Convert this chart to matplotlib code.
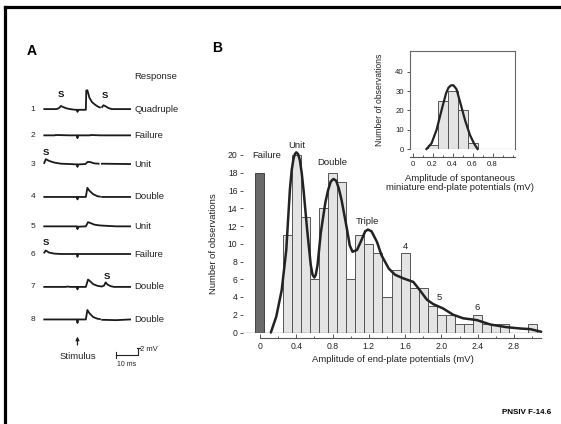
import numpy as np
import matplotlib
matplotlib.use('Agg')
import matplotlib.pyplot as plt
from matplotlib.lines import Line2D
from matplotlib.ticker import MultipleLocator

plt.rcParams['font.family'] = ['Liberation Sans', 'DejaVu Sans']

# ---------------- data ----------------
# main histogram: evoked end-plate potential amplitudes (mV)
epp_bins = [0.3, 0.4, 0.5, 0.6, 0.7, 0.8, 0.9, 1.0, 1.1, 1.2, 1.3, 1.4, 1.5, 1.6,
            1.7, 1.8, 1.9, 2.0, 2.1, 2.2, 2.3, 2.4, 2.5, 2.6, 2.7, 2.8, 2.9, 3.0]
epp_counts = [11, 20, 13, 6, 14, 18, 17, 6, 11, 10, 9, 4, 7, 9,
              5, 5, 3, 2, 2, 1, 1, 2, 1, 1, 1, 0, 0, 1]
failure_x = 0.0
failure_count = 18

# fitted curve
fit_x = [0.12, 0.18, 0.24, 0.29, 0.33, 0.35, 0.37, 0.385, 0.40, 0.42, 0.44, 0.46, 0.48,
         0.52, 0.56, 0.58, 0.60, 0.615, 0.635, 0.67, 0.72, 0.75, 0.78, 0.81, 0.84,
         0.87, 0.90, 0.96, 0.99, 1.02, 1.07, 1.11, 1.16, 1.19, 1.23, 1.29, 1.34,
         1.42, 1.49, 1.58, 1.69, 1.76, 1.84, 1.91, 2.02, 2.13, 2.24, 2.39, 2.54,
         2.72, 2.87, 2.98, 3.10]
fit_y = [0.0, 1.8, 4.8, 9.3, 16.1, 18.3, 19.6, 20.1, 20.3, 20.1, 19.4, 18.0, 16.1,
         11.6, 7.6, 6.5, 6.2, 6.5, 7.6, 11.2, 14.6, 16.0, 17.0, 17.3, 17.1,
         16.2, 14.9, 11.6, 9.8, 9.1, 9.3, 10.2, 11.4, 11.6, 11.4, 10.2, 8.7,
         7.2, 6.5, 6.1, 5.7, 4.8, 3.7, 3.2, 2.7, 2.0, 1.6, 1.4, 0.9,
         0.6, 0.45, 0.38, 0.08]

peak_labels = ['Unit', 'Double', 'Triple', '4', '5', '6']
peak_x = [0.40, 0.80, 1.19, 1.60, 1.98, 2.39]
peak_y = [21.1, 19.1, 12.5, 9.7, 3.9, 2.8]

# inset: spontaneous miniature potentials
mini_bins = [0.2, 0.3, 0.4, 0.5, 0.6]
mini_counts = [2, 25, 30, 20, 3]
mini_fit_x = [0.14, 0.19, 0.24, 0.29, 0.335, 0.36, 0.385, 0.41, 0.44, 0.48, 0.525, 0.575, 0.615, 0.65]
mini_fit_y = [0.0, 2.9, 9.8, 20.0, 28.8, 31.8, 33.0, 33.0, 31.0, 23.6, 15.0, 7.2, 2.9, 0.0]

# panel A: intracellular traces (time in ms, voltage in mV, NaN = gap)
nan = np.nan
trace_t = [
    [0.3, 5.9, 7.0, 7.9, 8.8, 10.5, 12.0, 14.5, 15.3, 15.4, 15.6, 19.2, 19.4, 19.9, 20.8, 22.0, 23.5, 25.0, 25.6,
     nan, 26.6, 27.2, 27.9, 29.5, 31.0, 39.3],
    [0.3, 5.0, 5.5, 12.0, 15.2, 15.4, 15.6, 21.0, 21.5, 26.0, 39.3],
    [0.3, 1.0, 2.5, 5.0, 8.0, 12.0, 15.2, 15.4, 15.6, 19.0, 20.0, 21.0, 23.0, 25.0, nan, 26.5, 39.3],
    [0.3, 15.2, 15.4, 15.6, 19.2, 19.9, 20.8, 22.5, 24.5, 25.6, nan, 26.6, 39.3],
    [0.3, 15.2, 15.4, 15.6, 19.2, 20.2, 21.5, 23.0, 25.0, 27.0, 30.0, 33.0, 39.3],
    [0.3, 1.0, 2.5, 5.0, 8.0, 15.2, 15.4, 15.6, 39.3],
    [0.3, 10.0, 11.0, 12.0, 15.2, 15.4, 15.6, 19.2, 20.2, 21.2, 22.5, 24.5, 26.5, 27.5, 28.2, 29.0, 30.5, 32.0, 39.3],
    [0.3, 15.2, 15.4, 15.6, 19.2, 19.9, 20.8, 22.5, 24.5, 25.6, nan, 26.6, 33.0, 39.3],
]
trace_v = [
    [0.0, 0.0, 0.3, 0.9, 0.6, 0.2, 0.0, -0.2, -0.2, -0.8, -0.2, -0.2, 5.3, 5.4, 3.3, 2.0, 1.2, 0.6, 0.5,
     nan, 0.6, 1.1, 0.9, 0.3, 0.0, 0.0],
    [0.0, 0.0, 0.1, 0.0, 0.0, -0.8, 0.0, 0.0, 0.1, 0.0, 0.0],
    [0.3, 1.4, 0.9, 0.4, 0.1, 0.0, -0.1, -0.8, -0.1, 0.0, 0.6, 0.6, 0.2, 0.1, nan, 0.1, 0.0],
    [0.0, 0.0, -0.7, 0.0, 0.0, 2.6, 1.8, 0.8, 0.2, 0.1, nan, 0.0, 0.0],
    [0.0, 0.0, -0.8, -0.1, 0.0, 1.2, 0.9, 0.5, 0.3, 0.2, 0.1, 0.0, 0.0],
    [0.4, 1.0, 0.4, 0.1, 0.0, 0.0, -0.8, 0.0, 0.0],
    [0.0, 0.0, 0.1, 0.0, 0.0, -0.7, 0.0, 0.0, 2.1, 1.6, 0.8, 0.3, 0.1, 0.4, 1.3, 0.7, 0.2, 0.0, 0.0],
    [0.0, 0.0, -1.0, 0.0, 0.0, 2.7, 1.8, 0.7, 0.2, 0.1, nan, -0.1, -0.2, 0.0],
]
trace_numbers = ['1', '2', '3', '4', '5', '6', '7', '8']
trace_responses = ['Quadruple', 'Failure', 'Unit', 'Double', 'Unit', 'Failure', 'Double', 'Double']
trace_offsets = [77.4, 69.9, 61.7, 52.3, 43.9, 36.0, 26.6, 17.3]
spont_t = [[7.9, 27.9], [], [1.0], [], [], [1.0], [28.7], []]
spont_h = [[4.2, 4.0], [], [3.4], [], [], [3.4], [3.1], []]

W, H = 561, 424
fig = plt.figure(figsize=(W / 100, H / 100), dpi=100)
txt = '#222222'
fs_lab = 6.8
fs_tick = 6.2


def box(l, t, r, b):
    return [l / W, 1 - b / H, (r - l) / W, (b - t) / H]


# frame lines of the slide
fig.add_artist(Line2D([4.5 / W, 1], [1 - 6.5 / H, 1 - 6.5 / H], color='black', lw=2.3))
fig.add_artist(Line2D([4.5 / W, 4.5 / W], [0, 1 - 6.5 / H], color='black', lw=2.3))

# ---------------- panel A ----------------
axA = fig.add_axes(box(43.6, 60, 129.4, 380))
axA.set_xlim(0, 39)
axA.set_ylim(0, 91.43)
axA.axis('off')
for i in range(len(trace_t)):
    off = trace_offsets[i]
    v = np.array(trace_v[i]) + off
    axA.plot(trace_t[i], v, color='#1a1a1a', lw=1.3, clip_on=False)
    axA.text(-4.8, off, trace_numbers[i], fontsize=6, color=txt, ha='center', va='center')
    axA.text(41.1, off, trace_responses[i], fontsize=fs_lab, color=txt, ha='left', va='center')
    for t, h in zip(spont_t[i], spont_h[i]):
        axA.text(t, off + h, 'S', fontsize=6.8, fontweight='bold', color='#111', ha='center', va='center')
axA.text(41.1, 86.6, 'Response', fontsize=fs_lab, color=txt, ha='left', va='center')
axA.annotate('', xy=(15.4, 13.2), xytext=(15.4, 9.2),
             arrowprops=dict(arrowstyle='-|>', color='#222', lw=0.9, mutation_scale=5))
axA.text(15.5, 6.7, 'Stimulus', fontsize=fs_lab, color=txt, ha='center', va='center')
# scale bar 10 ms / 2 mV
axA.plot([32.9, 43.0, 43.0], [7.14, 7.14, 9.14], color='#222', lw=0.8, clip_on=False)
axA.plot([32.9, 32.9], [6.4, 7.9], color='#222', lw=0.8, clip_on=False)
axA.plot([42.3, 43.7], [9.14, 9.14], color='#222', lw=0.8, clip_on=False)
axA.text(37.9, 4.3, '10 ms', fontsize=5, color=txt, ha='center', va='center')
axA.text(44.0, 8.6, '2 mV', fontsize=5.5, color=txt, ha='left', va='center')

fig.text(31.5 / W, 1 - 50.7 / H, 'A', fontsize=10, fontweight='bold', ha='center', va='center')
fig.text(217.5 / W, 1 - 48.3 / H, 'B', fontsize=10, fontweight='bold', ha='center', va='center')

# ---------------- panel B main histogram ----------------
ax = fig.add_axes(box(243, 155, 542, 332.5))
ax.bar(epp_bins, epp_counts, width=0.1, color='#e4e4e4', edgecolor='#555555', linewidth=0.7, zorder=2)
ax.bar([failure_x], [failure_count], width=0.1, color='#6a6a6a', edgecolor='#444444', linewidth=0.7, zorder=2)
ax.plot(fit_x, fit_y, color='#222222', lw=1.8, zorder=3, clip_on=False,
        solid_capstyle='round', solid_joinstyle='round')
ax.axhline(0, color='#444444', lw=0.9, zorder=4)
ax.set_xlim(-0.187, 3.109)
ax.set_ylim(0, 20)
for s in ['top', 'right', 'left']:
    ax.spines[s].set_visible(False)
ax.spines['bottom'].set_position(('outward', 4.3))
ax.spines['bottom'].set_bounds(0, 3.1)
ax.spines['bottom'].set_color('#555555')
ax.spines['bottom'].set_linewidth(0.8)
ax.xaxis.set_minor_locator(MultipleLocator(0.2))
ax.set_xticks([0, 0.4, 0.8, 1.2, 1.6, 2.0, 2.4, 2.8])
ax.set_xticklabels(['0', '0.4', '0.8', '1.2', '1.6', '2.0', '2.4', '2.8'])
ax.set_yticks(range(0, 21, 2))
ax.tick_params(axis='x', which='major', direction='in', length=3, width=0.7, color='#555',
               labelsize=fs_tick, labelcolor=txt, pad=2.5)
ax.tick_params(axis='x', which='minor', direction='in', length=1.5, width=0.7, color='#555')
ax.tick_params(axis='y', direction='out', length=2, width=0.7, color='#555',
               labelsize=fs_tick, labelcolor=txt, pad=2)
ax.set_xlabel('Amplitude of end-plate potentials (mV)', fontsize=fs_lab, color=txt, labelpad=3)
ax.set_ylabel('Number of observations', fontsize=fs_lab, color=txt)
ax.yaxis.set_label_coords((218 - 243) / (542 - 243), 0.5)
ax.text(-0.08, 19.9, 'Failure', fontsize=fs_lab, color=txt, ha='left', va='center')
for lab, px, py in zip(peak_labels, peak_x, peak_y):
    ax.text(px, py, lab, fontsize=fs_lab, color=txt, ha='center', va='center')

# ---------------- inset ----------------
axi = fig.add_axes(box(409.5, 51, 514.5, 149))
axi.bar(mini_bins, mini_counts, width=0.1, color='#e4e4e4', edgecolor='#555555', linewidth=0.7, zorder=2)
axi.plot(mini_fit_x, mini_fit_y, color='#222222', lw=1.6, zorder=3, clip_on=False,
         solid_joinstyle='round')
axi.axhline(0, color='#555555', lw=0.8, zorder=4)
axi.set_xlim(-0.03, 1.02)
axi.set_ylim(0, 50.8)
for s in ['top', 'right', 'left']:
    axi.spines[s].set_color('#666666')
    axi.spines[s].set_linewidth(0.8)
axi.spines['bottom'].set_position(('outward', 5.8))
axi.spines['bottom'].set_color('#555555')
axi.spines['bottom'].set_linewidth(0.8)
axi.set_xticks([0, 0.2, 0.4, 0.6, 0.8])
axi.set_xticklabels(['0', '0.2', '0.4', '0.6', '0.8'])
axi.xaxis.set_minor_locator(MultipleLocator(0.1))
axi.set_yticks([0, 10, 20, 30, 40])
axi.tick_params(axis='x', which='major', direction='in', length=3, width=0.7, color='#555',
                labelsize=5.6, labelcolor=txt, pad=2.5)
axi.tick_params(axis='x', which='minor', direction='in', length=1.5, width=0.7, color='#555')
axi.tick_params(axis='y', direction='out', length=2, width=0.7, color='#555',
                labelsize=5.6, labelcolor=txt, pad=2)
axi.set_ylabel('Number of observations', fontsize=6.2, color=txt)
axi.yaxis.set_label_coords((384 - 409.5) / 105, 0.5)
fig.text(460 / W, 1 - 183 / H, 'Amplitude of spontaneous\nminiature end-plate potentials (mV)',
         fontsize=fs_lab, color=txt, ha='center', va='center', linespacing=1.1)

fig.text(551 / W, 1 - 413 / H, 'PNSIV F-14.6', fontsize=5.8, fontweight='bold', ha='right', va='center')

fig.savefig('out.png', dpi=100)
